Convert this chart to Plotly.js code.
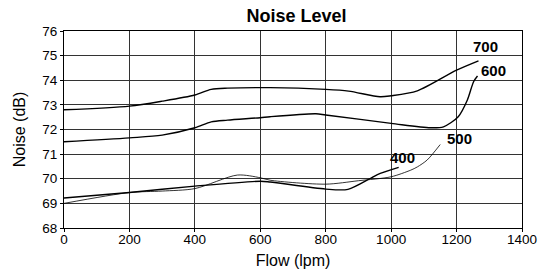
<!DOCTYPE html>
<html>
<head>
<meta charset="utf-8">
<script src="https://cdn.plot.ly/plotly-3.0.1.min.js"></script>
<style>html,body{margin:0;padding:0;background:#fff;}#chart{width:541px;height:270px;}</style>
</head>
<body>
<div id="chart"></div>
<script>
// Data
const flow700 = [0, 200, 300, 400, 450, 500, 630, 800, 870, 966, 1000, 1080, 1200, 1267];
const noise700 = [72.8, 72.95, 73.15, 73.4, 73.63, 73.68, 73.7, 73.63, 73.56, 73.33, 73.37, 73.57, 74.41, 74.79];

const flow600 = [0, 200, 300, 400, 450, 500, 600, 630, 770, 800, 1000, 1120, 1160, 1205, 1233, 1252, 1264];
const noise600 = [71.5, 71.66, 71.77, 72.07, 72.31, 72.38, 72.48, 72.52, 72.64, 72.59, 72.25, 72.07, 72.11, 72.52, 73.2, 73.94, 74.17];

const flow400 = [0, 200, 400, 600, 630, 800, 868, 936, 958, 1023];
const noise400 = [69.22, 69.44, 69.7, 69.9, 69.87, 69.58, 69.57, 70.01, 70.17, 70.46];

const flow500 = [0, 200, 300, 400, 530, 600, 630, 800, 900, 1000, 1060, 1080, 1110, 1150];
const noise500 = [69.0, 69.44, 69.5, 69.6, 70.15, 70.04, 69.94, 69.78, 69.92, 70.08, 70.35, 70.48, 70.76, 71.39];

const seriesLabels = ["700", "600", "500", "400"];
const labelX = [1289, 1313, 1208, 1035];
const labelY = [75.39, 74.41, 71.64, 70.85];

const xTicks = [0, 200, 400, 600, 800, 1000, 1200, 1400];
const yTicks = [68, 69, 70, 71, 72, 73, 74, 75, 76];

const traces = [
  {x: flow700, y: noise700, mode: 'lines', line: {color: '#000', width: 1.4, shape: 'spline', smoothing: 0.8}},
  {x: flow600, y: noise600, mode: 'lines', line: {color: '#000', width: 1.4, shape: 'spline', smoothing: 0.8}},
  {x: flow500, y: noise500, mode: 'lines', line: {color: '#000', width: 0.8, shape: 'spline', smoothing: 0.8}},
  {x: flow400, y: noise400, mode: 'lines', line: {color: '#000', width: 1.4, shape: 'spline', smoothing: 0.8}}
];

const annotations = seriesLabels.map((t, i) => ({
  x: labelX[i], y: labelY[i], text: '<b>' + t + '</b>', showarrow: false,
  font: {family: 'Liberation Sans, Arial, sans-serif', size: 15, color: '#000'},
  xanchor: 'center', yanchor: 'middle'
}));

const layout = {
  width: 541, height: 270,
  margin: {l: 64, r: 19, t: 31, b: 42},
  paper_bgcolor: '#fff', plot_bgcolor: '#fff',
  showlegend: false,
  font: {family: 'Liberation Sans, Arial, sans-serif', size: 13, color: '#000'},
  title: {text: '<b>Noise Level</b>', x: 296.5 / 541, xanchor: 'center', y: 1 - 16 / 270, yanchor: 'middle',
          font: {family: 'Liberation Sans, Arial, sans-serif', size: 18, color: '#000'}},
  xaxis: {
    range: [0, 1400], tickvals: xTicks, ticktext: xTicks.map(String),
    showgrid: true, gridcolor: '#333', gridwidth: 1,
    showline: true, linecolor: '#000', linewidth: 1, mirror: true,
    ticks: 'outside', ticklen: 3, tickcolor: '#000', zeroline: false,
    tickfont: {size: 13.5}, ticklabelstandoff: -4,
    title: {text: 'Flow (lpm)', font: {size: 16}, standoff: 8}
  },
  yaxis: {
    range: [68, 76], tickvals: yTicks, ticktext: yTicks.map(String),
    showgrid: true, gridcolor: '#333', gridwidth: 1,
    showline: true, linecolor: '#000', linewidth: 1, mirror: true,
    ticks: 'outside', ticklen: 3, tickcolor: '#000', zeroline: false,
    tickfont: {size: 13.5},
    title: {text: 'Noise (dB)', font: {size: 16}, standoff: 12}
  },
  annotations: annotations
};

Plotly.newPlot('chart', traces, layout, {displayModeBar: false, staticPlot: true});
</script>
</body>
</html>
